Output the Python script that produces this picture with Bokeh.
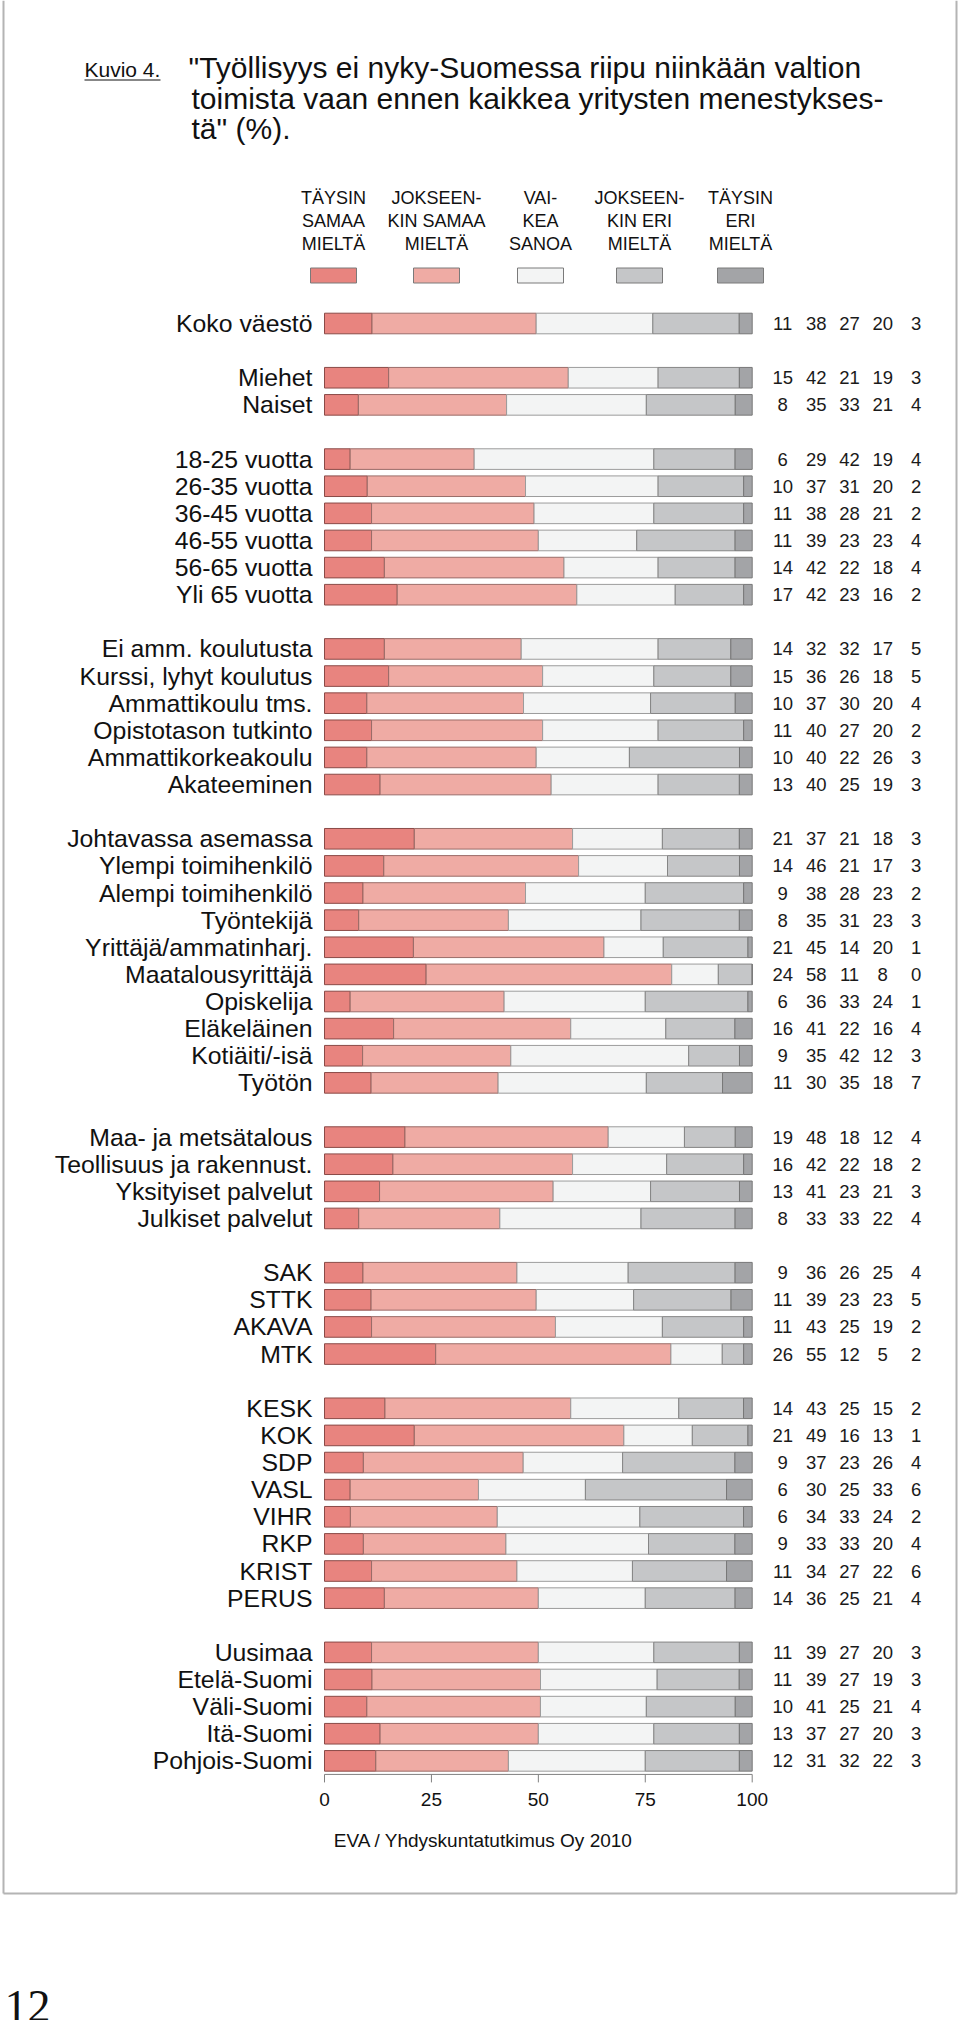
from bokeh.plotting import figure
from bokeh.models import Range1d, ColumnDataSource
from bokeh.core.properties import value
from bokeh.embed import file_html
from bokeh.resources import INLINE

# ---------------- data ----------------
categories = [
    "Koko väestö",
    "Miehet", "Naiset",
    "18-25 vuotta", "26-35 vuotta", "36-45 vuotta", "46-55 vuotta", "56-65 vuotta", "Yli 65 vuotta",
    "Ei amm. koulutusta", "Kurssi, lyhyt koulutus", "Ammattikoulu tms.", "Opistotason tutkinto",
    "Ammattikorkeakoulu", "Akateeminen",
    "Johtavassa asemassa", "Ylempi toimihenkilö", "Alempi toimihenkilö", "Työntekijä",
    "Yrittäjä/ammatinharj.", "Maatalousyrittäjä", "Opiskelija", "Eläkeläinen", "Kotiäiti/-isä", "Työtön",
    "Maa- ja metsätalous", "Teollisuus ja rakennust.", "Yksityiset palvelut", "Julkiset palvelut",
    "SAK", "STTK", "AKAVA", "MTK",
    "KESK", "KOK", "SDP", "VASL", "VIHR", "RKP", "KRIST", "PERUS",
    "Uusimaa", "Etelä-Suomi", "Väli-Suomi", "Itä-Suomi", "Pohjois-Suomi",
]
group_sizes = [1, 2, 6, 6, 10, 4, 4, 8, 5]

taysin_samaa = [11, 15, 8, 6, 10, 11, 11, 14, 17, 14, 15, 10, 11, 10, 13,
                21, 14, 9, 8, 21, 24, 6, 16, 9, 11, 19, 16, 13, 8, 9, 11, 11, 26,
                14, 21, 9, 6, 6, 9, 11, 14, 11, 11, 10, 13, 12]
jokseenkin_samaa = [38, 42, 35, 29, 37, 38, 39, 42, 42, 32, 36, 37, 40, 40, 40,
                    37, 46, 38, 35, 45, 58, 36, 41, 35, 30, 48, 42, 41, 33, 36, 39, 43, 55,
                    43, 49, 37, 30, 34, 33, 34, 36, 39, 39, 41, 37, 31]
vaikea_sanoa = [27, 21, 33, 42, 31, 28, 23, 22, 23, 32, 26, 30, 27, 22, 25,
                21, 21, 28, 31, 14, 11, 33, 22, 42, 35, 18, 22, 23, 33, 26, 23, 25, 12,
                25, 16, 23, 25, 33, 33, 27, 25, 27, 27, 25, 27, 32]
jokseenkin_eri = [20, 19, 21, 19, 20, 21, 23, 18, 16, 17, 18, 20, 20, 26, 19,
                  18, 17, 23, 23, 20, 8, 24, 16, 12, 18, 12, 18, 21, 22, 25, 23, 19, 5,
                  15, 13, 26, 33, 24, 20, 22, 21, 20, 19, 21, 20, 22]
taysin_eri = [3, 3, 4, 4, 2, 2, 4, 4, 2, 5, 5, 4, 2, 3, 3,
              3, 3, 2, 3, 1, 0, 1, 4, 3, 7, 4, 2, 3, 4, 4, 5, 2, 2,
              2, 1, 4, 6, 2, 4, 6, 4, 3, 3, 4, 3, 3]

series = [taysin_samaa, jokseenkin_samaa, vaikea_sanoa, jokseenkin_eri, taysin_eri]
series_labels = [
    ["TÄYSIN", "SAMAA", "MIELTÄ"],
    ["JOKSEEN-", "KIN SAMAA", "MIELTÄ"],
    ["VAI-", "KEA", "SANOA"],
    ["JOKSEEN-", "KIN ERI", "MIELTÄ"],
    ["TÄYSIN", "ERI", "MIELTÄ"],
]
axis_ticks = [0, 25, 50, 75, 100]
figure_label = "Kuvio 4."
title_lines = [
    "\"Työllisyys ei nyky-Suomessa riipu niinkään valtion",
    "toimista vaan ennen kaikkea yritysten menestykses-",
    "tä\" (%).",
]
source_text = "EVA / Yhdyskuntatutkimus Oy 2010"
page_number = "12"

# ---------------- style / layout ----------------
colors = ["#E8847F", "#EFABA4", "#F3F4F4", "#C5C6C8", "#A3A4A7"]
line_colors = ["#8a4a47", "#9a6c68", "#9c9c9c", "#858585", "#777777"]
FONT = value("Liberation Sans")

W, H = 958, 2020
PX0, PX1, PY0, PY1 = 0, W, 0, H               # page pixel extents of the figure
BAR_X0, BAR_X1 = 324.0, 751.7                  # page px of 0 % and 100 %
ROW0, PITCH = 323.0, 27.12                     # page px of first row, row pitch

pct_per_px = 100.0 / (BAR_X1 - BAR_X0)
pct_range = Range1d(start=(PX0 - BAR_X0) * pct_per_px, end=(PX1 - BAR_X0) * pct_per_px)
rows_range = Range1d(start=(PY1 - ROW0) / PITCH, end=(PY0 - ROW0) / PITCH)

p = figure(width=W, height=H, x_range=Range1d(PX0, PX1), y_range=Range1d(PY1, PY0),
           output_backend="svg", toolbar_location=None,
           x_axis_type=None, y_axis_type=None, min_border=0,
           outline_line_color=None, background_fill_color="white",
           border_fill_color="white")
p.extra_x_ranges = {"pct": pct_range}
p.extra_y_ranges = {"rows": rows_range}

# row slots (one empty slot between groups)
slots = []
idx = 0
for g, n in enumerate(group_sizes):
    for _ in range(n):
        slots.append(idx + g)
        idx += 1

# normalized stacked segments
totals = [sum(s[i] for s in series) for i in range(len(categories))]
cum = [0.0] * len(categories)
for k, s in enumerate(series):
    left = list(cum)
    right = [cum[i] + s[i] * 100.0 / totals[i] for i in range(len(categories))]
    cum = right
    src = ColumnDataSource(dict(y=slots, left=left, right=right))
    p.hbar(y="y", left="left", right="right", height=0.76, source=src,
           fill_color=colors[k], line_color=line_colors[k], line_width=1,
           x_range_name="pct", y_range_name="rows")

# category labels
p.text(x=0, y=slots, text=categories, x_offset=-12, text_align="right",
       text_baseline="middle", text_font=FONT, text_font_size="24.8px",
       text_color="#111111", x_range_name="pct", y_range_name="rows")

# value columns
col_offsets = [30.5, 64, 97.3, 130.5, 164]
for k, s in enumerate(series):
    p.text(x=100, y=slots, text=[str(v) for v in s], x_offset=col_offsets[k],
           text_align="center", text_baseline="middle", text_font=FONT,
           text_font_size="18.5px", text_color="#1a1a1a",
           x_range_name="pct", y_range_name="rows")

# x axis
axis_y = slots[-1] + 0.5
p.segment(x0=[axis_ticks[0]], x1=[axis_ticks[-1]], y0=[axis_y], y1=[axis_y],
          line_color="#808080", line_width=1, x_range_name="pct", y_range_name="rows")
p.segment(x0=axis_ticks, x1=axis_ticks, y0=[axis_y] * len(axis_ticks),
          y1=[axis_y + 8 / PITCH] * len(axis_ticks),
          line_color="#808080", line_width=1, x_range_name="pct", y_range_name="rows")
p.text(x=axis_ticks, y=[axis_y] * len(axis_ticks), text=[str(t) for t in axis_ticks],
       y_offset=25, text_align="center", text_baseline="middle", text_font=FONT,
       text_font_size="19px", text_color="#111111",
       x_range_name="pct", y_range_name="rows")

# legend
leg_x = [333, 436, 540, 639, 740]
p.rect(x=leg_x, y=[275] * 5, width=46, height=15, fill_color=colors,
       line_color="#7a7a7a", line_width=1)
for j, ly in enumerate([197, 220, 243]):
    p.text(x=leg_x, y=[ly] * 5, text=[lab[j] for lab in series_labels],
           text_align="center", text_baseline="middle", text_font=FONT,
           text_font_size="18px", text_color="#111111")

# title
p.text(x=[84], y=[69], text=[figure_label], text_align="left",
       text_baseline="middle", text_font=FONT, text_font_size="21px",
       text_color="#111111")
p.segment(x0=[84], x1=[160], y0=[79.5], y1=[79.5], line_color="#111111", line_width=1.2)
p.text(x=[188, 191, 191], y=[67, 97.5, 128], text=title_lines, text_align="left",
       text_baseline="middle", text_font=FONT, text_font_size="30px",
       text_color="#111111")

# source
p.text(x=[483], y=[1840], text=[source_text], text_align="center",
       text_baseline="middle", text_font=FONT, text_font_size="19px",
       text_color="#111111")

# frame box
p.multi_line(xs=[[3, 3], [3, 956], [956, 956]], ys=[[PY0, 1893], [1893, 1893], [1893, PY0]],
             line_color="#b4b4b4", line_width=2)

# page number
p.text(x=[4], y=[2006], text=[page_number], text_align="left",
       text_baseline="middle", text_font=value("Liberation Serif"),
       text_font_size="46px", text_color="#111111")

open("out.html", "w").write(file_html(p, INLINE))
